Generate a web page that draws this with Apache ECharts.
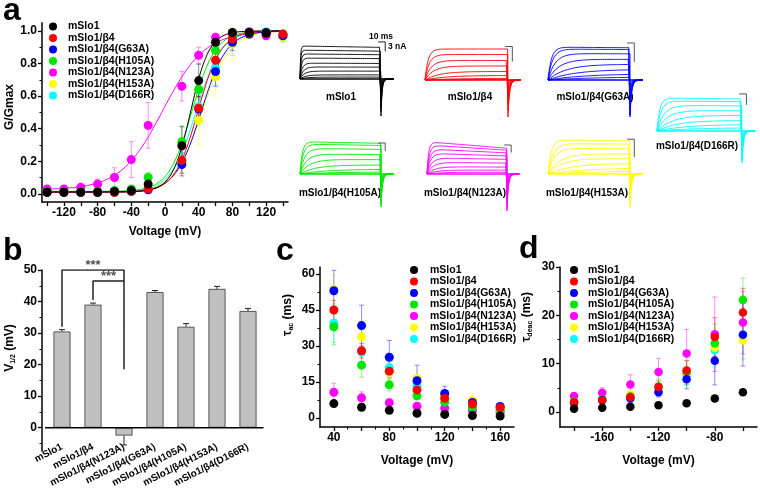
<!DOCTYPE html>
<html lang="en">
<head>
<meta charset="UTF-8">
<title>mSlo1 / β4 mutants</title>
<style>
    html, body {
        margin: 0;
        padding: 0;
        background: #fff;
    }
    #main {
        width: 760px;
        height: 495px;
    }
</style>
</head>
<body>
<div id="main"></div>
<script src="https://cdn.jsdelivr.net/npm/echarts@6/dist/echarts.min.js"></script>
<script>
var FONT = "'Liberation Sans', Arial, Helvetica, sans-serif";

var groups = ['mSlo1', 'mSlo1/β4', 'mSlo1/β4(G63A)', 'mSlo1/β4(H105A)',
              'mSlo1/β4(N123A)', 'mSlo1/β4(H153A)', 'mSlo1/β4(D166R)'];
var colors = ['#000000', '#ff0000', '#0000ff', '#00e600', '#ff00ff', '#ffff00', '#00ffff'];
var drawOrder = [6, 5, 4, 3, 2, 1, 0];

// a: G/Gmax vs voltage
var gvVolts = [-140, -120, -100, -80, -60, -40, -20, 20, 40, 60, 80, 100, 120, 140];
var gvMean = [
    [0.01, 0.01, 0.01, 0.01, 0.015, 0.02, 0.06, 0.295, 0.695, 0.93, 0.99, 0.99, 0.985, null],
    [0.01, 0.01, 0.01, 0.01, 0.01, 0.015, 0.03, 0.205, 0.525, 0.82, 0.95, 0.99, 0.985, 0.98],
    [0.01, 0.01, 0.01, 0.01, 0.01, 0.015, 0.025, 0.18, 0.52, 0.75, 0.93, 0.98, 0.99, 0.97],
    [0.015, 0.015, 0.015, 0.015, 0.02, 0.03, 0.1, 0.32, 0.64, 0.88, 0.96, 0.98, 0.99, 0.98],
    [0.03, 0.03, 0.04, 0.06, 0.1, 0.21, 0.42, 0.66, 0.85, 0.96, 0.98, 0.995, 0.97, 0.975],
    [0.01, 0.01, 0.01, 0.01, 0.01, 0.015, 0.03, 0.19, 0.45, 0.72, 0.92, 0.98, 0.99, 0.96],
    [0.01, 0.01, 0.01, 0.01, 0.01, 0.015, 0.03, 0.2, 0.535, 0.77, 0.92, 0.98, 0.995, 0.96]
];
var gvErr = [
    [0, 0, 0, 0, 0, 0.01, 0.03, 0.12, 0.1, 0.03, 0.02, 0.01, 0.01, 0],
    [0, 0, 0, 0, 0, 0, 0.01, 0.08, 0.07, 0.05, 0.03, 0.01, 0.01, 0.02],
    [0, 0, 0, 0, 0, 0, 0.02, 0.07, 0.08, 0.09, 0.05, 0.02, 0.01, 0.02],
    [0, 0, 0, 0, 0, 0.01, 0.03, 0.09, 0.06, 0.04, 0.03, 0.01, 0.01, 0.01],
    [0.01, 0.01, 0.01, 0.03, 0.06, 0.11, 0.14, 0.09, 0.05, 0.02, 0.01, 0.01, 0.02, 0.02],
    [0, 0, 0, 0, 0, 0, 0.01, 0.08, 0.15, 0.12, 0.1, 0.03, 0.02, 0.02],
    [0, 0, 0, 0, 0, 0, 0.01, 0.07, 0.12, 0.1, 0.07, 0.02, 0.01, 0.03]
];
// Boltzmann fit parameters
var fitVhalf = [30.5, 39, 43, 32, -2.5, 44, 37];
var fitSlope = [11.1, 13.7, 15.2, 14, 25, 16.6, 15];
var fitBase = [0.012, 0.01, 0.01, 0.015, 0.025, 0.01, 0.01];

// b: V1/2 bars
var barLabels = ['mSlo1', 'mSlo1/β4', 'mSlo1/β4(N123A)', 'mSlo1/β4(G63A)',
                 'mSlo1/β4(H105A)', 'mSlo1/β4(H153A)', 'mSlo1/β4(D166R)'];
var barValues = [30.5, 39, -2.5, 43, 32, 44, 37];
var barErr = [0.6, 0.5, 3, 0.5, 1, 0.8, 0.8];

// c: activation time constant
var acVolts = [40, 60, 80, 100, 120, 140, 160];
var tauAc = [
    [6, 4.5, 3.2, 2, 1.5, 1, 0.8],
    [45, 28, 19.5, 11.7, 8.2, 5.8, 4.3],
    [53, 38.5, 25.3, 15.5, 10.2, 6.5, 4.8],
    [38, 22, 13.8, 9.2, 6.6, 4.5, 3.2],
    [10.7, 8.4, 6.4, 4.9, 4.1, 3.2, 2.3],
    [53.5, 33.8, 19, 16.5, 8.5, 7.3, 4.5],
    [39.5, 27.5, 21, 13, 9, 5.5, 3.8]
];
var tauAcErr = [
    [0.8, 0.5, 0.4, 0.3, 0.3, 0.2, 0.2],
    [4, 3, 2.5, 2, 1.5, 1, 0.8],
    [8.5, 8.5, 7, 6.5, 3, 1.5, 1],
    [7.5, 5, 2.5, 1.5, 1, 0.8, 0.6],
    [3.8, 2.5, 1.5, 1, 0.8, 0.6, 0.5],
    [6, 5, 3, 3, 1.5, 1, 0.8],
    [8, 6, 4, 3, 2, 1, 0.8]
];

// d: deactivation time constant
var deacVolts = [-180, -160, -140, -120, -100, -80, -60];
var tauDeac = [
    [0.7, 0.9, 1.1, 1.4, 1.8, 2.8, 4.1],
    [2.0, 2.4, 3.1, 5.2, 8.6, 15.5, 20.6],
    [1.8, 2.5, 2.8, 4.1, 6.8, 10.6, 16],
    [2.2, 2.6, 3.2, 5.3, 8.2, 14.2, 23.2],
    [3.3, 4.0, 5.7, 8.3, 12.1, 16.1, 18.5],
    [2.0, 2.5, 3.6, 4.8, 7.8, 13.3, 14.8],
    [2.1, 2.6, 3.0, 4.6, 7.5, 12.8, 16.0]
];
var tauDeacErr = [
    [0.1, 0.1, 0.2, 0.2, 0.3, 0.4, 0.5],
    [0.5, 0.6, 0.8, 1.2, 2, 4, 5],
    [0.4, 0.6, 0.7, 1, 2, 5, 6.5],
    [0.5, 0.6, 0.8, 1.5, 2.5, 4, 4.5],
    [0.6, 1, 2, 2.8, 5, 7.7, 6.5],
    [0.4, 0.5, 0.8, 1, 2, 3, 4],
    [0.4, 0.5, 0.7, 1, 2, 3.5, 5]
];

// current traces: steady-state level (nA) and rise time constant (ms) per sweep
var traceLevels = [
    [10.4, 9.1, 7.9, 6.6, 5.0, 3.8, 2.5, 1.3, 0.6],
    [6.2, 5.1, 3.9, 2.8, 1.7, 0.9, 0.35, 0.1],
    [5.2, 4.9, 4.2, 3.3, 2.5, 1.7, 1.0, 0.5],
    [12.1, 11.2, 9.6, 7.5, 5.5, 3.4, 1.8, 0.75],
    [12.9, 11.6, 10, 8.3, 6.5, 4.7, 2.9, 1.6, 0.7],
    [5.7, 5.1, 4.3, 3.4, 2.6, 1.8, 1.05, 0.5],
    [9.0, 8.2, 7.0, 5.6, 4.3, 2.9, 1.8, 0.9]
];
var traceTaus = [
    [0.8, 1, 1.5, 2, 3, 4.5, 6, 8, 10],
    [4.3, 5.8, 8.2, 11.7, 19.5, 28, 45, 60],
    [4.8, 6.5, 10, 15.5, 25.3, 38.5, 53, 65],
    [3.2, 4.5, 6.5, 9.2, 13.8, 22, 38, 45],
    [2.3, 3.2, 4.1, 4.8, 6.4, 8.4, 10.7, 14, 18],
    [4.5, 7.2, 8.5, 16.5, 19, 33.8, 53.5, 65],
    [3.8, 5.5, 9, 13, 21, 27.5, 39.5, 50]
];
var traceDroop = [0.04, 0.0, 0.02, 0.05, 0.2, 0.03, 0.03];
var tailPeak = [11.7, 7.4, 5.85, 12.4, 14.8, 5.5, 8.7];
var tailTau = [1.6, 2.2, 2.2, 2, 2, 2, 2];
var scaleBarTop = [11.7, 6.7, 5.85, 11.6, 11.6, 5.8, 10.1];

var SWEEP = 115, TAILWIN = 18;

var tracePanels = [
    {g: 0, x0: 300, w: 81, base: 79, ppn: 3.17, lx: 341, ly: 97},
    {g: 1, x0: 425, w: 83, base: 80, ppn: 5, lx: 470, ly: 97},
    {g: 2, x0: 548, w: 82, base: 80, ppn: 6.33, lx: 595, ly: 97},
    {g: 6, x0: 657, w: 85, base: 131, ppn: 3.67, lx: 697, ly: 146},
    {g: 3, x0: 300, w: 81, base: 174, ppn: 2.67, lx: 340, ly: 193},
    {g: 4, x0: 427, w: 80, base: 174, ppn: 2.5, lx: 465, ly: 193},
    {g: 5, x0: 548, w: 82, base: 174, ppn: 6, lx: 587, ly: 193}
];

var grids = [], xAxes = [], yAxes = [], series = [], legends = [], graphics = [];

function addValueAxis(list, gi, pos, min, max, major, minor, labels, fmt, offset) {
    var idx = list.length;
    list.push({
        type: 'value', gridIndex: gi, position: pos, min: min, max: max, offset: offset || 0,
        axisLine: {show: true, onZero: false, lineStyle: {color: '#000', width: 1.5}},
        axisTick: {show: true, customValues: major, length: 4, lineStyle: {color: '#000', width: 1.3}},
        axisLabel: {show: true, customValues: labels, formatter: fmt, color: '#000',
                    fontFamily: FONT, fontWeight: 'bold', fontSize: 12, margin: 5},
        splitLine: {show: false}
    });
    list.push({
        type: 'value', gridIndex: gi, position: pos, min: min, max: max, offset: offset || 0,
        axisLine: {show: false, onZero: false},
        axisTick: {show: minor.length > 0, customValues: minor, length: 2.5, lineStyle: {color: '#000', width: 1}},
        axisLabel: {show: false},
        splitLine: {show: false}
    });
    return idx;
}

function errorBars(name, xi, yi, data, color, opacity, cap, oneSided) {
    return {
        type: 'custom', name: name, xAxisIndex: xi, yAxisIndex: yi, z: 1, silent: true,
        data: data, encode: {x: 0, y: 1},
        renderItem: function (params, api) {
            var x = api.value(0), y = api.value(1), e = api.value(2);
            var hiV = oneSided ? y + (y < 0 ? -e : e) : y + e;
            var loV = oneSided ? y : y - e;
            var hi = api.coord([x, hiV]), lo = api.coord([x, loV]);
            var st = {stroke: color, lineWidth: 1, opacity: opacity};
            var kids = [
                {type: 'line', shape: {x1: hi[0], y1: hi[1], x2: lo[0], y2: lo[1]}, style: st},
                {type: 'line', shape: {x1: hi[0] - cap, y1: hi[1], x2: hi[0] + cap, y2: hi[1]}, style: st}
            ];
            if (!oneSided) {
                kids.push({type: 'line', shape: {x1: lo[0] - cap, y1: lo[1], x2: lo[0] + cap, y2: lo[1]}, style: st});
            }
            return {type: 'group', children: kids};
        }
    };
}

function addScatterPanel(gi, xi, yi, volts, means, errs, size) {
    drawOrder.forEach(function (i) {
        var ed = [];
        volts.forEach(function (v, k) {
            if (means[i][k] != null && errs[i][k] > 0) ed.push([v, means[i][k], errs[i][k]]);
        });
        series.push(errorBars('err ' + groups[i], xi, yi, ed, colors[i], 0.45, 2.5, false));
    });
    drawOrder.forEach(function (i) {
        var pd = [];
        volts.forEach(function (v, k) {
            if (means[i][k] != null) pd.push([v, means[i][k]]);
        });
        series.push({
            type: 'scatter', name: groups[i], xAxisIndex: xi, yAxisIndex: yi, z: 3,
            data: pd, symbol: 'circle', symbolSize: size,
            itemStyle: {color: colors[i], opacity: 1}
        });
    });
}

function legendAt(left, top, textPad) {
    return {
        data: groups.map(function (n, i) {
            return {name: n, icon: 'circle', itemStyle: {color: colors[i]}};
        }),
        orient: 'vertical', left: left, top: top, padding: 0,
        itemWidth: 8, itemHeight: 8, itemGap: 0.5, selectedMode: false,
        textStyle: {fontFamily: FONT, fontWeight: 'bold', fontSize: 10.5, color: '#000',
                    padding: [0, 0, 0, textPad]}
    };
}

function text(x, y, str, size, align, extra) {
    var el = {
        type: 'text', x: x, y: y, silent: true,
        style: {text: str, font: 'bold ' + size + 'px ' + FONT, fill: '#000',
                textAlign: align || 'center', textVerticalAlign: 'middle'}
    };
    if (extra) {
        for (var k in extra) el[k] = extra[k];
    }
    return el;
}

function richTitle(x, y, main, sub, tail) {
    return {
        type: 'text', x: x, y: y, rotation: Math.PI / 2, silent: true,
        style: {
            text: '{m|' + main + '}{s|' + sub + '}{m|' + tail + '}',
            textAlign: 'center', textVerticalAlign: 'middle',
            rich: {
                m: {fontFamily: FONT, fontWeight: 'bold', fontSize: 12, fill: '#000', lineHeight: 14},
                s: {fontFamily: FONT, fontWeight: 'bold', fontSize: 7, fill: '#000',
                    verticalAlign: 'bottom', lineHeight: 10}
            }
        }
    };
}

var numFmt = function (v) { return String(v); };
function range(a, b, step) {
    var out = [];
    for (var v = a; v <= b + 1e-9; v += step) out.push(Math.round(v * 100) / 100);
    return out;
}

// ---- panel a
grids.push({left: 42, top: 22.7, width: 246, height: 179.3});
var axA = addValueAxis(xAxes, 0, 'bottom', -146, 146, range(-140, 140, 20), [], range(-120, 120, 40), numFmt);
xAxes[axA].name = 'Voltage (mV)';
xAxes[axA].nameLocation = 'middle';
xAxes[axA].nameGap = 24;
xAxes[axA].nameTextStyle = {fontFamily: FONT, fontWeight: 'bold', fontSize: 12, color: '#000'};
var ayA = addValueAxis(yAxes, 0, 'left', -0.05, 1.05, range(0, 1, 0.2), range(0.1, 0.9, 0.2), range(0, 1, 0.2),
    function (v) { return v.toFixed(1); });
drawOrder.forEach(function (i) {
    var pts = [];
    for (var v = -140; v <= 140; v += 1) {
        pts.push([v, fitBase[i] + (1 - fitBase[i]) / (1 + Math.exp(-(v - fitVhalf[i]) / fitSlope[i]))]);
    }
    series.push({
        type: 'line', name: 'fit ' + groups[i], xAxisIndex: axA, yAxisIndex: ayA, z: 2,
        data: pts, showSymbol: false, symbol: 'none', silent: true,
        lineStyle: {color: colors[i], width: 1}
    });
});
addScatterPanel(0, axA, ayA, gvVolts, gvMean, gvErr, 9);
legends.push(legendAt(49, 21, 6));

// ---- panel b
grids.push({left: 46.5, top: 270, width: 217, height: 181.3});
var axB = xAxes.length;
xAxes.push({
    type: 'category', gridIndex: 1, position: 'bottom', data: barLabels,
    axisLine: {show: false, onZero: false}, axisTick: {show: false},
    axisLabel: {interval: 0, rotate: 27, margin: -5, color: '#000', fontFamily: FONT,
                fontWeight: 'bold', fontSize: 10}
});
var axB2 = xAxes.length;
xAxes.push({type: 'value', gridIndex: 1, min: -0.5, max: 6.5, show: false,
            axisLine: {onZero: false}});
var ayB = addValueAxis(yAxes, 1, 'left', -7.5, 50, range(0, 50, 10), [-5, 5, 15, 25, 35, 45], range(0, 50, 10), numFmt, 4.5);
series.push({
    type: 'bar', name: 'V1/2', xAxisIndex: axB, yAxisIndex: ayB, data: barValues, barWidth: 17,
    itemStyle: {color: '#c0c0c0', borderColor: '#333', borderWidth: 0.8}, z: 2
});
series.push(errorBars('V1/2 err', axB, ayB, barValues.map(function (v, k) { return [k, v, barErr[k]]; }),
    '#222', 1, 3, true));
series.push({
    type: 'line', name: 'zero', xAxisIndex: axB2, yAxisIndex: ayB, clip: false, silent: true,
    data: [[-0.645, 0], [6.5, 0]], showSymbol: false, symbol: 'none', z: 4,
    lineStyle: {color: '#000', width: 1.5}
});
series.push({
    type: 'line', name: 'sig1', xAxisIndex: axB2, yAxisIndex: ayB, silent: true,
    data: [[0, 32], [0, 50], [2, 50], [2, 18.5]], showSymbol: false, symbol: 'none', z: 4,
    lineStyle: {color: '#222', width: 1.5}
});
series.push({
    type: 'line', name: 'sig2', xAxisIndex: axB2, yAxisIndex: ayB, silent: true,
    data: [[1, 40.5], [1, 46.5], [2, 46.5]], showSymbol: false, symbol: 'none', z: 4,
    lineStyle: {color: '#222', width: 1.5}
});
series.push({
    type: 'scatter', name: 'stars', xAxisIndex: axB2, yAxisIndex: ayB, silent: true,
    data: [[1, 50], [1.5, 46.5]], symbolSize: 0.1, z: 5,
    label: {show: true, position: 'top', distance: -2, formatter: '***', color: '#222',
            fontFamily: FONT, fontWeight: 'bold', fontSize: 13}
});

// ---- panel c
grids.push({left: 320, top: 267, width: 194, height: 160});
var axC = addValueAxis(xAxes, 2, 'bottom', 30, 170, range(40, 160, 20), range(50, 150, 20), range(40, 160, 40), numFmt);
xAxes[axC].name = 'Voltage (mV)';
xAxes[axC].nameLocation = 'middle';
xAxes[axC].nameGap = 28;
xAxes[axC].nameTextStyle = {fontFamily: FONT, fontWeight: 'bold', fontSize: 12, color: '#000'};
var ayC = addValueAxis(yAxes, 2, 'left', -3.75, 62.9, range(0, 60, 15), [7.5, 22.5, 37.5, 52.5], range(0, 60, 15), numFmt);
addScatterPanel(2, axC, ayC, acVolts, tauAc, tauAcErr, 9);
legends.push(legendAt(410, 264.5, 7));

// ---- panel d
grids.push({left: 560, top: 267, width: 197, height: 160});
var axD = addValueAxis(xAxes, 3, 'bottom', -190, -50, range(-180, -60, 20), [], [-160, -120, -80], numFmt);
xAxes[axD].name = 'Voltage (mV)';
xAxes[axD].nameLocation = 'middle';
xAxes[axD].nameGap = 28;
xAxes[axD].nameTextStyle = {fontFamily: FONT, fontWeight: 'bold', fontSize: 12, color: '#000'};
var ayD = addValueAxis(yAxes, 3, 'left', -3.1, 30, range(0, 30, 10), [5, 15, 25], range(0, 30, 10), numFmt);
addScatterPanel(3, axD, ayD, deacVolts, tauDeac, tauDeacErr, 8.5);
legends.push(legendAt(570, 264.5, 5));

// ---- current traces
tracePanels.forEach(function (p) {
    var gi = grids.length;
    var pxPerMs = p.w / SWEEP;
    grids.push({left: p.x0, top: p.base - 42, width: (SWEEP + TAILWIN) * pxPerMs, height: 84});
    var xi = xAxes.length, yi = yAxes.length;
    xAxes.push({type: 'value', gridIndex: gi, min: 0, max: SWEEP + TAILWIN, show: false});
    yAxes.push({type: 'value', gridIndex: gi, min: -42 / p.ppn, max: 42 / p.ppn, show: false});
    var lv = traceLevels[p.g], tu = traceTaus[p.g], amax = lv[0];
    lv.forEach(function (A, k) {
        var pts = [];
        for (var t = 0; t <= SWEEP; t += 0.5) {
            var droop = 1 - traceDroop[p.g] * (A / amax) * t / SWEEP;
            pts.push([t, A * (1 - Math.exp(-t / tu[k])) * droop]);
        }
        var tp = -tailPeak[p.g] * A / amax;
        for (var s = 0; s <= TAILWIN; s += 0.25) {
            pts.push([SWEEP + s, tp * Math.exp(-s / tailTau[p.g])]);
        }
        series.push({
            type: 'line', name: 'trace', xAxisIndex: xi, yAxisIndex: yi, data: pts,
            showSymbol: false, symbol: 'none', silent: true, clip: false,
            lineStyle: {color: colors[p.g], width: 0.9}
        });
    });
    series.push({
        type: 'line', name: 'baseline', xAxisIndex: xi, yAxisIndex: yi,
        data: [[0, 0], [SWEEP + TAILWIN, 0]], showSymbol: false, symbol: 'none', silent: true,
        lineStyle: {color: colors[p.g], width: 1.3}
    });
    var top = scaleBarTop[p.g];
    series.push({
        type: 'line', name: 'scale', xAxisIndex: xi, yAxisIndex: yi, clip: false,
        data: [[SWEEP - 4, top], [SWEEP + 6, top], [SWEEP + 6, top - 3]],
        showSymbol: false, symbol: 'none', silent: true,
        lineStyle: {color: p.g === 0 ? '#222' : '#555', width: 1}
    });
    graphics.push(text(p.lx, p.ly, groups[p.g], 10));
});

graphics.push(text(369, 37, '10 ms', 8.5, 'left'));
graphics.push(text(388, 47, '3 nA', 8.5, 'left'));

// panel letters and y titles
graphics.push(text(3, 11, 'a', 32, 'left'));
graphics.push(text(3, 251, 'b', 32, 'left'));
graphics.push(text(276, 251, 'c', 32, 'left'));
graphics.push(text(519, 249, 'd', 32, 'left'));
graphics.push(text(10, 107, 'G/Gmax', 12, 'center', {rotation: Math.PI / 2}));
graphics.push(richTitle(10, 348, 'V', '1/2', ' (mV)'));
graphics.push(richTitle(288, 315, 'τ', 'ac', ' (ms)'));
graphics.push(richTitle(527, 317, 'τ', 'deac', ' (ms)'));

var chart = echarts.init(document.getElementById('main'), null, {renderer: 'canvas'});
chart.setOption({
    animation: false,
    backgroundColor: '#fff',
    textStyle: {fontFamily: FONT},
    grid: grids,
    xAxis: xAxes,
    yAxis: yAxes,
    legend: legends,
    series: series,
    graphic: graphics
});
</script>
</body>
</html>
